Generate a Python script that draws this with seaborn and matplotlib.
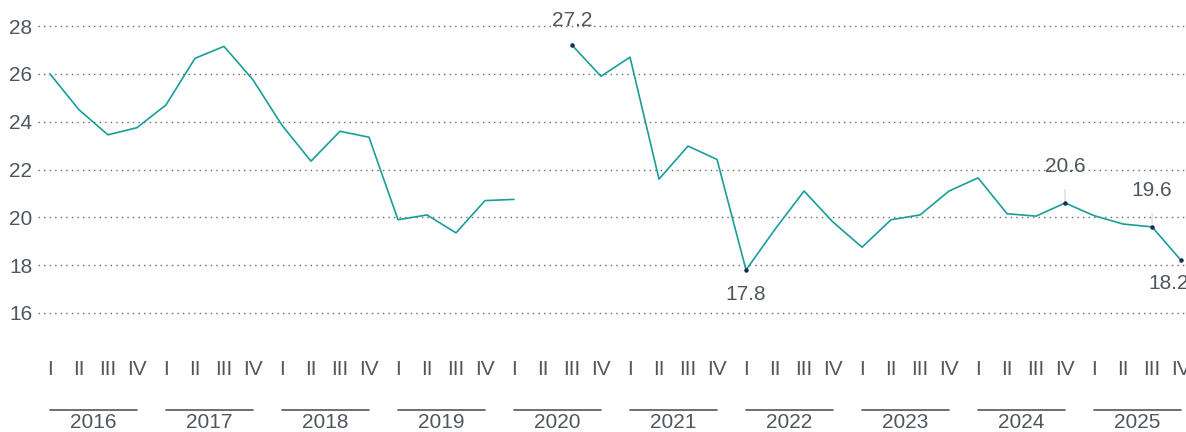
import numpy as np
import pandas as pd
import matplotlib
matplotlib.use("Agg")
import matplotlib.pyplot as plt
import matplotlib.transforms as mtransforms
import seaborn as sns

years = list(range(2016, 2026))
quarters = ["I", "II", "III", "IV"]
values = [
    26.0, 24.5, 23.45, 23.75,
    24.7, 26.65, 27.15, 25.75,
    23.85, 22.35, 23.6, 23.35,
    19.9, 20.1, 19.35, 20.7,
    20.75, np.nan, 27.2, 25.9,
    26.7, 21.6, 22.98, 22.42,
    17.8, 19.5, 21.1, 19.8,
    18.75, 19.9, 20.1, 21.1,
    21.65, 20.15, 20.05, 20.6,
    20.07, 19.72, 19.6, 18.2,
]
labelled = [18, 24, 35, 38, 39]

sns.set_theme(style="white")
plt.rcParams["font.family"] = ["Liberation Sans", "DejaVu Sans"]
text_color = "#50565e"
line_color = "#1a9e9a"
fs = 15

idx = np.arange(len(values))
seg = np.cumsum(np.isnan(values))
df = pd.DataFrame({"idx": idx, "value": values, "seg": seg}).dropna()

fig = plt.figure(figsize=(11.86, 4.32), dpi=100)
ax = fig.add_axes([0.032, 0.213, 0.968, 0.787])

# separate units so the line breaks at the missing quarter
sns.lineplot(data=df, x="idx", y="value", units="seg", estimator=None,
             color=line_color, linewidth=1.2, ax=ax, legend=False)

ax.set_xlim(-0.414, 39.17)
ax.set_ylim(14.87, 29.09)
ax.set_yticks(range(16, 29, 2))
ax.grid(axis="y", linestyle=(0, (1, 3)), color="#6a6a6a", linewidth=1.0)
ax.grid(axis="x", visible=False)
for s in ax.spines.values():
    s.set_visible(False)
ax.tick_params(axis="y", length=0, pad=4, labelsize=fs, labelcolor=text_color)
ax.set_xticks([])
ax.set_xlabel("")
ax.set_ylabel("")

trans = mtransforms.blended_transform_factory(ax.transData, ax.transAxes)
for i in idx:
    ax.text(i, -0.088, quarters[i % 4], transform=trans, ha="center", va="center",
            fontsize=fs, color=text_color, clip_on=False)
for k, y in enumerate(years):
    x0, x1 = 4 * k, 4 * k + 3
    ax.plot([x0, x1], [-0.206, -0.206], transform=trans, color=text_color,
            linewidth=1.2, clip_on=False)
    ax.text((x0 + x1) / 2, -0.243, str(y), transform=trans, ha="center", va="center",
            fontsize=fs, color=text_color, clip_on=False)

offsets = {18: (0, 18), 24: (0, -18), 35: (0, 26), 38: (0, 26), 39: (-9, -17)}
for i in labelled:
    v = values[i]
    dx, dy = offsets[i]
    ax.annotate(f"{v:.1f}", xy=(i, v), xytext=(dx, dy), textcoords="offset points",
                ha="center", va="center", fontsize=fs, color=text_color,
                arrowprops=dict(arrowstyle="-", color="#dddddd", linewidth=1,
                                shrinkA=7, shrinkB=0),
                annotation_clip=False)
    ax.plot(i, v, "o", color="#1d2b4a", markersize=2.2, zorder=5)

fig.savefig("out.png", dpi=100)
